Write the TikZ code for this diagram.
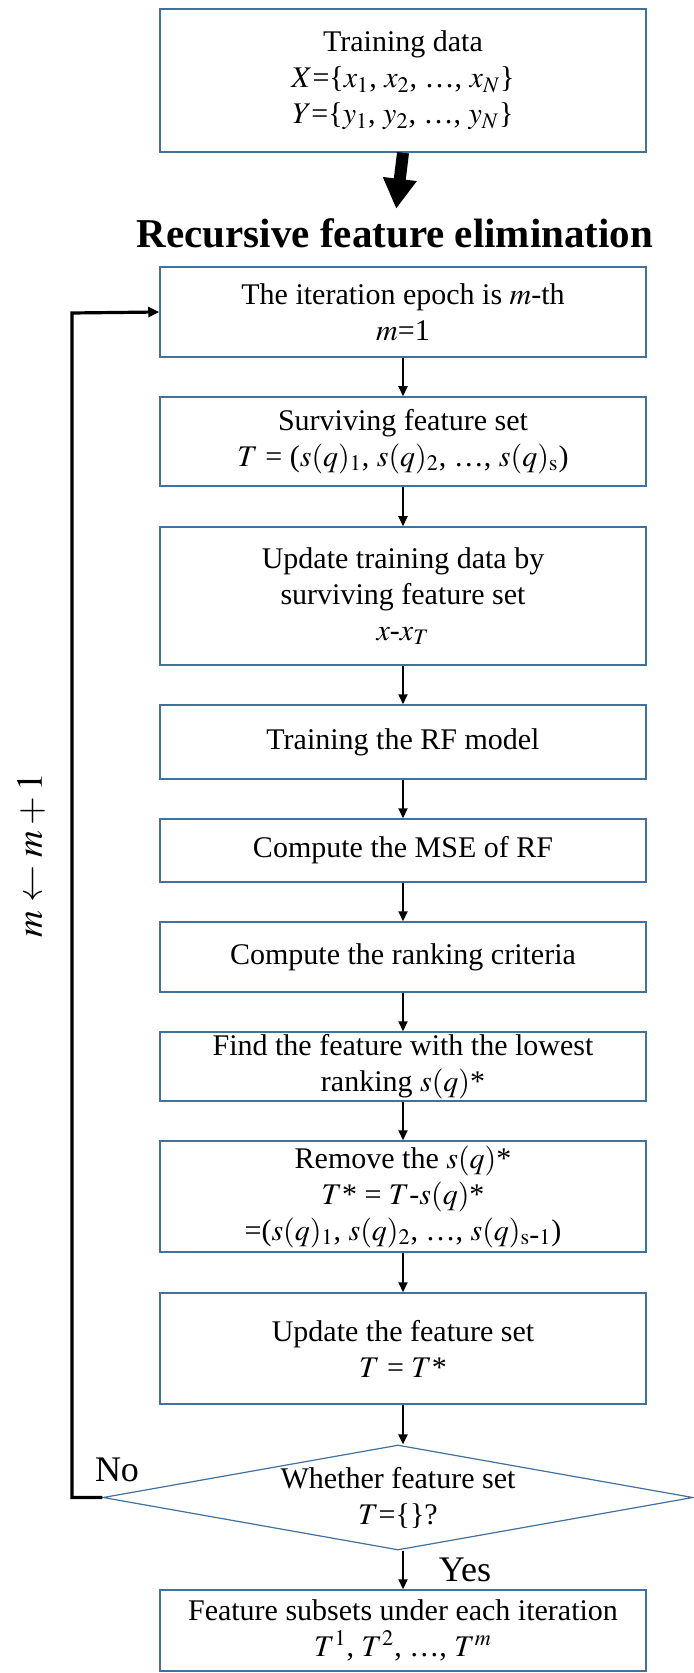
\documentclass[tikz,border=0pt]{standalone}
\usepackage{mathptmx}
\usepackage{fontspec}
\setmainfont{Liberation Serif}
\usetikzlibrary{shapes.geometric,arrows.meta}
\definecolor{boxblue}{RGB}{65,113,156}

\begin{document}
\begin{tikzpicture}[x=0.5pt,y=-0.5pt,
    box/.style={draw=boxblue,line width=0.75pt,minimum width=243pt,inner sep=0pt,align=center,font=\fontsize{15}{18}\selectfont},
    decision/.style={shape=diamond,draw=boxblue,line width=0.6pt,aspect=5.6,minimum width=295pt,minimum height=52.5pt,inner sep=0pt,align=center,font=\fontsize{15}{18}\selectfont},
    flow/.style={line width=1pt,-{Triangle[width=4.5pt,length=5pt]}},
    loopline/.style={line width=1.6pt,-{Triangle[width=5pt,length=5.5pt]}},
    bigflow/.style={line width=6pt,-{Triangle[width=16pt,length=15pt]}},
    answer/.style={inner sep=0pt,anchor=base,font=\fontsize{18}{21}\selectfont}]
    \useasboundingbox (0,0) rectangle (694,1673);

    % Boxes
    \node[box,minimum height=71.5pt] (train) at (403,80.5) {Training data\\ $X$=\{$x_1$, $x_2$, \ldots, $x_N$\}\\ $Y$=\{$y_1$, $y_2$, \ldots, $y_N$\}};
    \node[inner sep=0pt,anchor=base,font=\fontsize{20.5}{24}\selectfont\bfseries] (title) at (395,248) {Recursive feature elimination};
    \node[box,minimum height=45pt] (epoch) at (403,312) {The iteration epoch is $m$-th\\ $m$=1};
    \node[box,minimum height=44.5pt] (surv) at (403,441.5) {Surviving feature set\\ $T$ = ($s(q)_1$, $s(q)_2$, \ldots, $s(q)_{\mathrm{s}}$)};
    \node[box,minimum height=69pt] (upd) at (403,596) {Update training data by\\ surviving feature set\\ $x$-$x_T$};
    \node[box,minimum height=37pt] (rf) at (403,742) {Training the RF model};
    \node[box,minimum height=31.5pt] (mse) at (403,850.5) {Compute the MSE of RF};
    \node[box,minimum height=35pt] (rank) at (403,957) {Compute the ranking criteria};
    \node[box,minimum height=34.5pt] (low) at (403,1066.5) {Find the feature with the lowest\\ ranking $s(q)$*};
    \node[box,minimum height=55.5pt] (rem) at (403,1196.5) {Remove the $s(q)$*\\ $T$* = $T$-$s(q)$*\\ =($s(q)_1$, $s(q)_2$, \ldots, $s(q)_{\mathrm{s\mbox{-}1}}$)};
    \node[box,minimum height=55.5pt] (set) at (403,1348.5) {Update the feature set\\ $T$ = $T$*};
    \node[decision] (check) at (398,1497.5) {Whether feature set\\ $T$=\{\}?};
    \node[box,minimum height=40.5pt] (subs) at (403,1630.5) {Feature subsets under each iteration\\ $T^1$, $T^2$, \ldots, $T^m$};

    % Text Node
    \node[answer] (no) at (117,1481) {No};
    \node[answer] (yes) at (465,1581) {Yes};
    \node[rotate=90,inner sep=0pt,font=\fontsize{18.5}{22}\selectfont] (incr) at (31,855) {$m \leftarrow m+1$};
    \coordinate (loop) at (72,313);

    % Arrows
    \draw[bigflow,shorten >=5pt] (train.south) -- (title.north);
    \draw[flow] (epoch) -- (surv);
    \draw[flow] (surv) -- (upd);
    \draw[flow] (upd) -- (rf);
    \draw[flow] (rf) -- (mse);
    \draw[flow] (mse) -- (rank);
    \draw[flow] (rank) -- (low);
    \draw[flow] (low) -- (rem);
    \draw[flow] (rem) -- (set);
    \draw[flow] (set.south) -- (set.south |- check.north);
    \draw[flow] (set.south |- check.south) -- (subs.north);
    \draw[loopline] (check.west) -| (loop) -- (epoch.west);

\end{tikzpicture}
\end{document}
